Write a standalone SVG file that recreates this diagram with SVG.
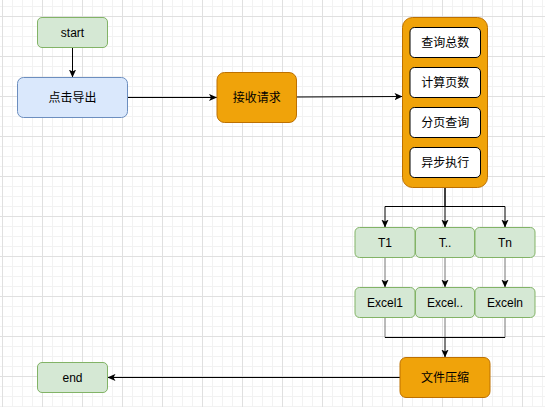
<svg xmlns="http://www.w3.org/2000/svg" width="545" height="407" viewBox="0 0 545 407">
<defs>
<pattern id="grid" patternUnits="userSpaceOnUse" x="2" y="16" width="40" height="40">
<path d="M10.5,0V40M20.5,0V40M30.5,0V40M0,10.5H40M0,20.5H40M0,30.5H40" stroke="#f2f2f2" stroke-width="1" fill="none"/>
<path d="M0.5,0V40M0,0.5H40" stroke="#e0e0e0" stroke-width="1" fill="none"/>
</pattern>
<marker id="arr" viewBox="0 0 10 10" markerUnits="userSpaceOnUse" markerWidth="8" markerHeight="8" refX="10" refY="5" orient="auto">
<path d="M0,0.5 L10,5 L0,9.5 L2.5,5 Z" fill="#000"/>
</marker>
</defs>
<style>
text{font-family:"Liberation Sans","Noto Sans CJK SC",sans-serif;font-size:12px;fill:#000;text-anchor:middle;dominant-baseline:central}
.green{fill:#d5e8d4;stroke:#82b366;stroke-width:1}
.blue{fill:#dae8fc;stroke:#6c8ebf;stroke-width:1}
.orange{fill:#f0a30a;stroke:#bd7000;stroke-width:1}
.white{fill:#fff;stroke:#000;stroke-width:1}
.e{fill:none;stroke:#000;stroke-width:1;}
.g{fill:none;stroke:#777;stroke-width:1;}
</style>
<rect x="0" y="0" width="545" height="407" fill="#fff"/>
<rect x="0" y="0" width="545" height="407" fill="url(#grid)"/>
<g id="connectors">
<path class="e" d="M72.5,47.5V77.5" marker-end="url(#arr)"/>
<path class="e" d="M127.5,97.5H217" marker-end="url(#arr)"/>
<path class="e" d="M296.5,97L402.5,96.5" marker-end="url(#arr)"/>
<path class="e" d="M445,187.5V206.5H385V227.5" marker-end="url(#arr)"/>
<path class="e" d="M445,187.5V227.5" marker-end="url(#arr)"/>
<path class="e" d="M445,206.5H505V227.5" marker-end="url(#arr)"/>
<path class="g" d="M385,257.5V287.5" marker-end="url(#arr)"/>
<path class="g" d="M445,257.5V287.5" marker-end="url(#arr)"/>
<path class="g" d="M505,257.5V287.5" marker-end="url(#arr)"/>
<path class="g" d="M385,317.5V337.5M505,317.5V337.5M445,317.5V337.5"/>
<path class="e" d="M385,337.5H505"/>
<path class="e" d="M445,337.5V357.5" marker-end="url(#arr)"/>
<path class="e" d="M400,377.5H107.5" marker-end="url(#arr)"/>
</g>
<g id="start"><rect class="green" x="37.5" y="17.5" width="70" height="30" rx="4.5"/><text x="72.5" y="32.5">start</text></g>
<g id="click"><rect class="blue" x="17.5" y="77.5" width="110" height="40" rx="6"/><text x="72.5" y="97.5">点击导出</text></g>
<g id="receive"><rect class="orange" x="217" y="72.5" width="79.5" height="50" rx="7.5"/><text x="256.7" y="97.5">接收请求</text></g>
<g id="container"><rect class="orange" x="402.5" y="17.5" width="85" height="170" rx="10"/></g>
<g id="q1"><rect class="white" x="410" y="27.5" width="70.5" height="30" rx="4.5"/><text x="445.2" y="42.5">查询总数</text></g>
<g id="q2"><rect class="white" x="410" y="67.5" width="70.5" height="30" rx="4.5"/><text x="445.2" y="82.5">计算页数</text></g>
<g id="q3"><rect class="white" x="410" y="107.5" width="70.5" height="30" rx="4.5"/><text x="445.2" y="122.5">分页查询</text></g>
<g id="q4"><rect class="white" x="410" y="147.5" width="70.5" height="30" rx="4.5"/><text x="445.2" y="162.5">异步执行</text></g>
<g id="t1"><rect class="green" x="355" y="227.5" width="60" height="30" rx="4.5"/><text x="385" y="242.5">T1</text></g>
<g id="t2"><rect class="green" x="415.5" y="227.5" width="59" height="30" rx="4.5"/><text x="445" y="242.5">T..</text></g>
<g id="tn"><rect class="green" x="475" y="227.5" width="60" height="30" rx="4.5"/><text x="505" y="242.5">Tn</text></g>
<g id="e1"><rect class="green" x="355" y="287.5" width="60" height="30" rx="4.5"/><text x="385" y="302.5">Excel1</text></g>
<g id="e2"><rect class="green" x="415.5" y="287.5" width="59" height="30" rx="4.5"/><text x="445" y="302.5">Excel..</text></g>
<g id="en"><rect class="green" x="475" y="287.5" width="60" height="30" rx="4.5"/><text x="505" y="302.5">Exceln</text></g>
<g id="zip"><rect class="orange" x="400" y="357.5" width="90" height="40" rx="6"/><text x="445" y="377.5">文件压缩</text></g>
<g id="end"><rect class="green" x="37.5" y="362.5" width="70" height="30" rx="4.5"/><text x="72.5" y="377.5">end</text></g>
</svg>
